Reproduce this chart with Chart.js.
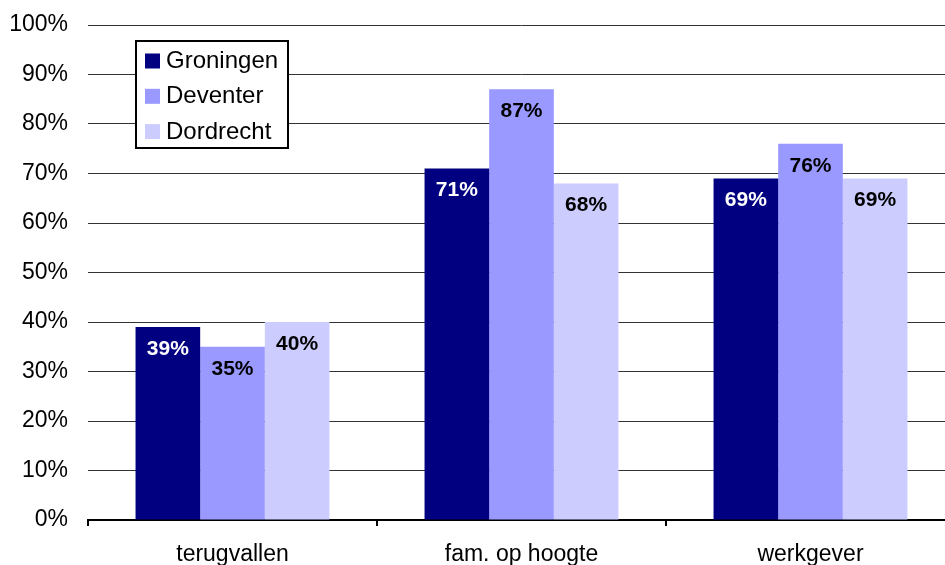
<!DOCTYPE html>
<html>
<head>
<meta charset="utf-8">
<script src="https://cdn.jsdelivr.net/npm/chart.js@4/dist/chart.umd.min.js"></script>
<style>
html,body{margin:0;padding:0;background:#fff;overflow:hidden;}
#wrap{width:945px;height:565px;overflow:hidden;position:relative;}
#c{position:absolute;left:0;top:0;}
</style>
</head>
<body>
<div id="wrap"><canvas id="c" width="965" height="565"></canvas></div>
<script>
const categories = ['terugvallen', 'fam. op hoogte', 'werkgever'];
const groningen = [39, 71, 69];
const deventer = [35, 87, 76];
const dordrecht = [40, 68, 69];
const seriesNames = ['Groningen', 'Deventer', 'Dordrecht'];
const seriesColors = ['#000080', '#9999FF', '#CCCCFF'];
const labelColors = ['#ffffff', '#000000', '#000000'];

const FONT = '"Liberation Sans", Arial, sans-serif';

const valueLabels = {
  id: 'valueLabels',
  afterDatasetsDraw(chart) {
    const ctx = chart.ctx;
    ctx.save();
    ctx.font = 'bold 21px ' + FONT;
    ctx.textAlign = 'center';
    ctx.textBaseline = 'middle';
    chart.data.datasets.forEach((ds, di) => {
      const meta = chart.getDatasetMeta(di);
      meta.data.forEach((bar, i) => {
        ctx.fillStyle = labelColors[di];
        ctx.fillText(ds.data[i] + '%', bar.x, bar.y + 22);
      });
    });
    ctx.restore();
  }
};

const boxLegend = {
  id: 'boxLegend',
  afterDraw(chart) {
    const ctx = chart.ctx;
    const x0 = 136, y0 = 41, w = 152, h = 107;
    ctx.save();
    ctx.fillStyle = '#fff';
    ctx.fillRect(x0, y0, w, h);
    ctx.lineWidth = 2;
    ctx.strokeStyle = '#000';
    ctx.strokeRect(x0, y0, w, h);
    ctx.font = '24px ' + FONT;
    ctx.textBaseline = 'middle';
    ctx.textAlign = 'left';
    chart.data.datasets.forEach((ds, i) => {
      const cy = 60.5 + i * 35.3;
      ctx.fillStyle = ds.backgroundColor;
      ctx.fillRect(145, cy - 7, 15, 15);
      ctx.fillStyle = '#000';
      ctx.fillText(ds.label, 166, cy + 1);
    });
    ctx.restore();
  }
};

new Chart(document.getElementById('c'), {
  type: 'bar',
  data: {
    labels: categories,
    datasets: [
      { label: seriesNames[0], data: groningen, backgroundColor: seriesColors[0] },
      { label: seriesNames[1], data: deventer, backgroundColor: seriesColors[1] },
      { label: seriesNames[2], data: dordrecht, backgroundColor: seriesColors[2] }
    ]
  },
  options: {
    responsive: false,
    animation: false,
    devicePixelRatio: 1,
    layout: { padding: { top: 25, right: 10, left: 0, bottom: 0 } },
    datasets: { bar: { categoryPercentage: 0.671, barPercentage: 1.0, borderWidth: 0 } },
    plugins: { legend: { display: false }, tooltip: { enabled: false } },
    scales: {
      x: {
        offset: true,
        grid: { display: true, drawOnChartArea: false, drawTicks: true, tickLength: 6, color: '#000', lineWidth: 2, offset: true },
        border: { display: true, color: '#000', width: 2 },
        ticks: { color: '#000', font: { family: FONT, size: 23 }, padding: 15, maxRotation: 0 },
        afterFit(scale) { scale.height = 45; scale.paddingLeft = 0; scale.paddingRight = 0; }
      },
      y: {
        min: 0, max: 100,
        ticks: { stepSize: 10, color: '#000', font: { family: FONT, size: 23 }, padding: 20, callback: v => v + '%' },
        grid: { color: '#333', lineWidth: 1, drawTicks: false },
        border: { display: false },
        afterFit(scale) { scale.width = 88; scale.paddingTop = 0; scale.paddingBottom = 0; }
      }
    }
  },
  plugins: [valueLabels, boxLegend]
});
</script>
</body>
</html>
